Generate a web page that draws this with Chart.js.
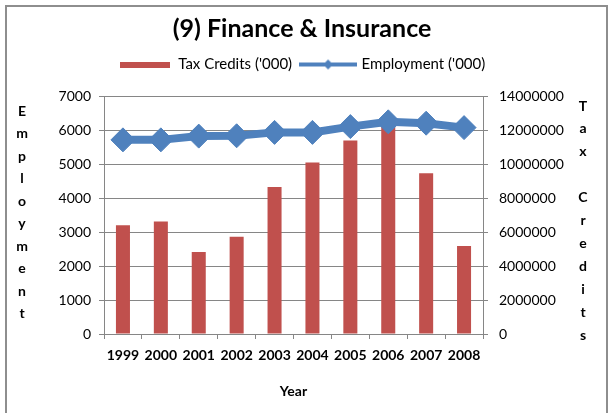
<!DOCTYPE html>
<html>
<head>
<meta charset="utf-8">
<title>(9) Finance &amp; Insurance</title>
<script src="https://cdn.jsdelivr.net/npm/chart.js@4.4.1/dist/chart.umd.min.js"></script>
<style>
  html, body { margin: 0; padding: 0; background: #fff; }
  #wrap { position: relative; width: 610px; height: 413px; overflow: hidden; }
  #frame { position: absolute; left: 5px; top: 5px; width: 599px; height: 430px; border: 2px solid #8e8e8e; }
  #chart { position: absolute; left: 0; top: 0; }
</style>
</head>
<body>
<div id="wrap">
  <div id="frame"></div>
  <canvas id="chart" width="610" height="413"></canvas>
</div>
<script>
const years = ['1999', '2000', '2001', '2002', '2003', '2004', '2005', '2006', '2007', '2008'];
const taxCredits = [6400000, 6620000, 4820000, 5720000, 8640000, 10090000, 11380000, 12200000, 9460000, 5170000];
const employment = [5710, 5710, 5820, 5830, 5930, 5930, 6100, 6240, 6200, 6070];
const employmentRange = [0, 7000, 1000];
const taxCreditRange = [0, 14000000, 2000000];
const employmentLetters = ['E', 'm', 'p', 'l', 'o', 'y', 'm', 'e', 'n', 't'];
const taxCreditLetters = ['T', 'a', 'x', '', 'C', 'r', 'e', 'd', 'i', 't', 's'];

const RED = '#C0504D';
const BLUE = '#4F81BD';
const GRID = '#868686';
const FONT = 'Lato';

// legend swatches: a flat bar for the credits, a line with a diamond for employment
function barSwatch() {
    const c = document.createElement('canvas');
    c.width = 50; c.height = 6;
    const g = c.getContext('2d');
    g.fillStyle = RED;
    g.fillRect(0, 0, 50, 6);
    return c;
}
function lineSwatch() {
    const c = document.createElement('canvas');
    c.width = 58; c.height = 12;
    const g = c.getContext('2d');
    g.strokeStyle = BLUE;
    g.lineWidth = 4;
    g.beginPath(); g.moveTo(0, 6); g.lineTo(58, 6); g.stroke();
    g.fillStyle = BLUE;
    g.beginPath(); g.moveTo(29, 1); g.lineTo(34, 6); g.lineTo(29, 11); g.lineTo(24, 6); g.closePath(); g.fill();
    return c;
}
const swatches = [barSwatch(), lineSwatch()];

// vertical letter-by-letter axis titles, drawn beside each y axis
const stackedTitles = {
    id: 'stackedTitles',
    beforeInit(chart) {
        // leave a gap under the legend
        const fit = chart.legend.fit;
        chart.legend.fit = function () {
            fit.call(this);
            this.height += 14;
        };
    },
    afterDraw(chart) {
        const {ctx, chartArea} = chart;
        ctx.save();
        ctx.font = 'bold 14px ' + FONT;
        ctx.fillStyle = '#000';
        ctx.textAlign = 'center';
        ctx.textBaseline = 'middle';
        employmentLetters.forEach((ch, i) => ctx.fillText(ch, 22, chartArea.top + 15 + i * 22.5));
        taxCreditLetters.forEach((ch, i) => ctx.fillText(ch, 583, chartArea.top + 10 + i * 22.9));
        ctx.restore();
    }
};

new Chart(document.getElementById('chart'), {
    data: {
        labels: years,
        datasets: [{
            type: 'bar',
            label: "Tax Credits ('000)",
            data: taxCredits,
            yAxisID: 'y1',
            backgroundColor: RED,
            barPercentage: 0.37,
            categoryPercentage: 1,
            order: 1
        }, {
            type: 'line',
            label: "Employment ('000)",
            data: employment,
            yAxisID: 'y',
            borderColor: BLUE,
            borderWidth: 8,
            pointStyle: 'rectRot',
            pointRadius: 12,
            pointBackgroundColor: BLUE,
            pointBorderColor: BLUE,
            pointBorderWidth: 1,
            tension: 0,
            order: 0
        }]
    },
    options: {
        responsive: false,
        animation: false,
        layout: { padding: { left: 0, right: 6, top: 0, bottom: 0 } },
        plugins: {
            tooltip: { enabled: false },
            title: {
                display: true,
                text: '(9) Finance & Insurance',
                color: '#000',
                font: { family: FONT, size: 25, weight: 'bold' },
                padding: { top: 14, bottom: 3 }
            },
            legend: {
                position: 'top',
                labels: {
                    color: '#000',
                    font: { family: FONT, size: 15 },
                    usePointStyle: true,
                    pointStyleWidth: 52,
                    padding: 10,
                    sort: (a, b) => a.datasetIndex - b.datasetIndex,
                    generateLabels(chart) {
                        const items = Chart.defaults.plugins.legend.labels.generateLabels(chart);
                        items.forEach(item => { item.pointStyle = swatches[item.datasetIndex]; });
                        return items;
                    }
                }
            }
        },
        scales: {
            x: {
                offset: true,
                grid: { offset: true, drawOnChartArea: false, drawTicks: true, tickLength: 5, color: GRID },
                border: { color: GRID },
                ticks: { color: '#000', font: { family: FONT, size: 14, weight: 'bold' }, padding: 8, maxRotation: 0 },
                title: {
                    display: true,
                    text: 'Year',
                    color: '#000',
                    font: { family: FONT, size: 14, weight: 'bold' },
                    padding: { top: 0, bottom: 13 }
                },
                afterFit(scale) { scale.height = 79; }
            },
            y: {
                position: 'left',
                min: employmentRange[0],
                max: employmentRange[1],
                grid: { color: GRID, tickLength: 5 },
                border: { color: GRID },
                ticks: {
                    stepSize: employmentRange[2],
                    color: '#000',
                    font: { family: FONT, size: 14 },
                    padding: 8,
                    callback: v => String(v)
                },
                afterFit(scale) { scale.width = 104; }
            },
            y1: {
                position: 'right',
                min: taxCreditRange[0],
                max: taxCreditRange[1],
                grid: { drawOnChartArea: false, color: GRID, tickLength: 5 },
                border: { color: GRID },
                ticks: {
                    stepSize: taxCreditRange[2],
                    color: '#000',
                    font: { family: FONT, size: 14 },
                    padding: 11,
                    callback: v => String(v)
                },
                afterFit(scale) { scale.width = 121; }
            }
        }
    },
    plugins: [stackedTitles]
});
</script>
</body>
</html>
